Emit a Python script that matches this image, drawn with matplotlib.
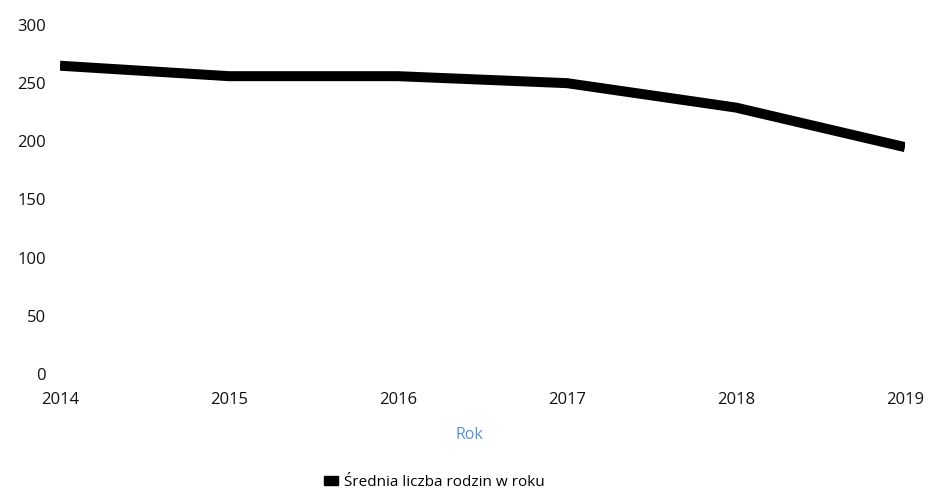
import matplotlib
matplotlib.use("Agg")
import matplotlib.pyplot as plt
from matplotlib.patches import Patch

plt.rcParams['font.family'] = ['Open Sans', 'DejaVu Sans']

# dane
lata = [2014, 2015, 2016, 2017, 2018, 2019]
srednia_rodzin = [265, 256, 256, 250, 229, 195]
y_ticki = [0, 50, 100, 150, 200, 250, 300]
etykieta_serii = 'Średnia liczba rodzin w roku'

fig = plt.figure(figsize=(9.3, 4.93), dpi=100)
ax = fig.add_axes([0.0645, 0.2414, 0.9086, 0.7079])

ax.plot(lata, srednia_rodzin, color='black', linewidth=7.2, solid_capstyle='butt')

ax.set_xlim(lata[0], lata[-1])
ax.set_ylim(0, 300)
ax.set_xticks(lata)
ax.set_yticks(y_ticki)
for s in ax.spines.values():
    s.set_visible(False)
ax.tick_params(axis='both', length=0, labelsize=12, colors='#111111')
ax.tick_params(axis='y', pad=10)
ax.tick_params(axis='x', pad=13)

fig.text(0.505, 0.117, 'Rok', color='#5a8fd2', fontsize=11.5, ha='center', va='center')

uchwyt = Patch(facecolor='black', edgecolor='black')
fig.legend([uchwyt], [etykieta_serii], loc='center', bbox_to_anchor=(0.467, 0.022),
           frameon=False, fontsize=11, handlelength=0.9, handleheight=0.5,
           handletextpad=0.4)

fig.savefig('out.png', dpi=100)
